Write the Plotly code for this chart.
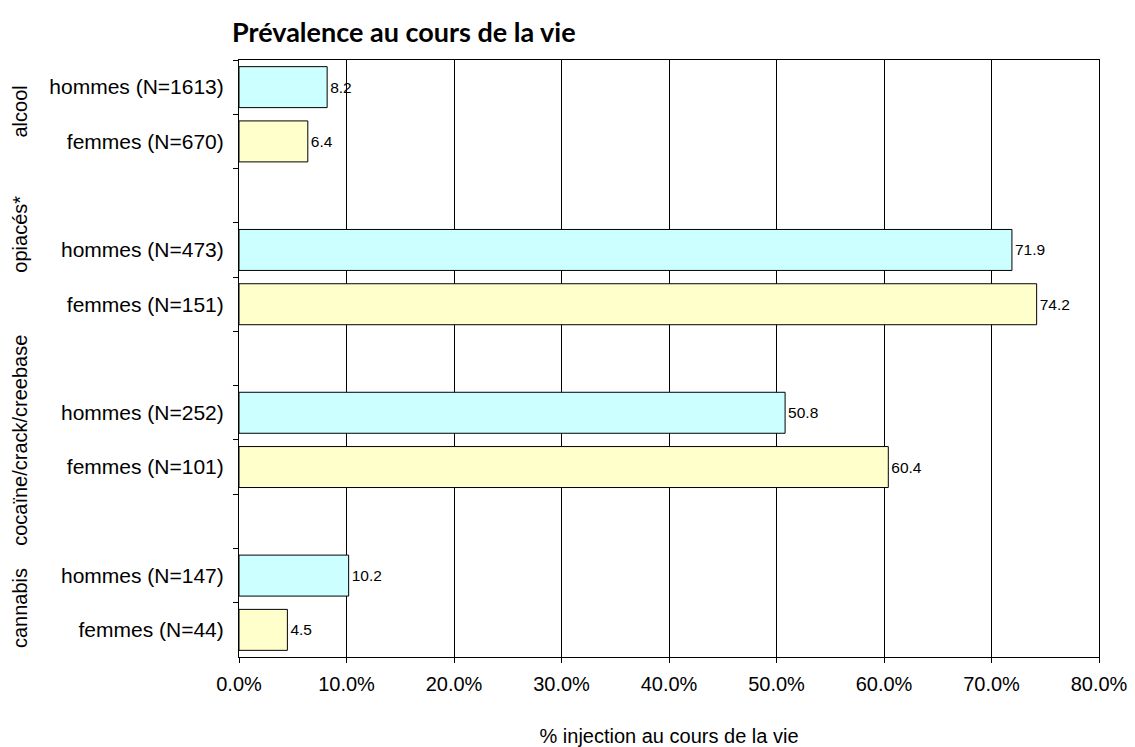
import plotly.graph_objects as go

groups = ["alcool", "opiacés*", "cocaïne/crack/creebase", "cannabis"]
n_hommes = [1613, 473, 252, 147]
n_femmes = [670, 151, 101, 44]
pct_hommes = [8.2, 71.9, 50.8, 10.2]
pct_femmes = [6.4, 74.2, 60.4, 4.5]
x_ticks = [0, 10, 20, 30, 40, 50, 60, 70, 80]

# group-label shifts (in rows) to mimic the original's label placement
label_shift = [-0.05, -0.8, 0.0, 0.1]

# build category rows (top to bottom) with a blank row between groups
categories = []
h_labels, f_labels, group_centers = [], [], []
for i, g in enumerate(groups):
    h = f"hommes (N={n_hommes[i]})"
    f = f"femmes (N={n_femmes[i]})"
    start = len(categories)
    categories += [h, f]
    group_centers.append(start + 0.5 + label_shift[i])
    h_labels.append(h)
    f_labels.append(f)
    if i < len(groups) - 1:
        categories.append(" " * (i + 1))

FONT = "Liberation Sans, Arial, sans-serif"

fig = go.Figure()
fig.add_trace(go.Bar(
    y=h_labels, x=pct_hommes, orientation="h", name="hommes",
    marker=dict(color="#CCFFFF", line=dict(color="black", width=1)),
    text=pct_hommes, texttemplate="%{x:.1f}", textposition="outside",
    textfont=dict(family=FONT, size=15.5, color="black"), cliponaxis=False,
))
fig.add_trace(go.Bar(
    y=f_labels, x=pct_femmes, orientation="h", name="femmes",
    marker=dict(color="#FFFFCC", line=dict(color="black", width=1)),
    text=pct_femmes, texttemplate="%{x:.1f}", textposition="outside",
    textfont=dict(family=FONT, size=15.5, color="black"), cliponaxis=False,
))

for g, c in zip(groups, group_centers):
    fig.add_annotation(
        text=g, x=-0.2547, xref="paper", y=c, yref="y",
        textangle=-90, showarrow=False, xanchor="center", yanchor="middle",
        font=dict(family=FONT, size=20, color="black"),
    )

fig.update_layout(
    width=1135, height=747,
    margin=dict(l=239, r=36, t=60, b=90, autoexpand=False),
    paper_bgcolor="white", plot_bgcolor="white",
    barmode="overlay", bargap=0.245,
    showlegend=False,
    font=dict(family=FONT, size=20, color="black"),
    title=dict(
        text="<b>Prévalence au cours de la vie</b>",
        x=232 / 1135, xanchor="left", xref="container",
        y=1 - 33 / 747, yanchor="middle", yref="container",
        font=dict(family="Lato, Open Sans, sans-serif", size=27, color="black"),
    ),
    xaxis=dict(
        range=[0, 80], tickvals=x_ticks,
        ticktext=[f"{v:.1f}%" for v in x_ticks],
        showgrid=True, gridcolor="black", gridwidth=1,
        showline=True, linecolor="black", linewidth=1, mirror=True,
        ticks="outside", ticklen=5, tickcolor="black",
        zeroline=False, automargin=False, ticklabelstandoff=4,
        tickfont=dict(family=FONT, size=20),
        title=dict(text="% injection au cours de la vie", standoff=37,
                   font=dict(family=FONT, size=20)),
    ),
    yaxis=dict(
        type="category", categoryorder="array", categoryarray=categories,
        autorange="reversed", automargin=False,
        showgrid=False, showline=True, linecolor="black", linewidth=1, mirror=True,
        ticks="outside", ticklen=5, tickcolor="black", tickson="boundaries",
        ticklabelstandoff=10,
        tickfont=dict(family=FONT, size=21),
    ),
)

fig.write_html(
    "out.html",
    config={"displayModeBar": False},
    post_script="document.body.style.margin='0';document.body.style.overflow='hidden';",
)
